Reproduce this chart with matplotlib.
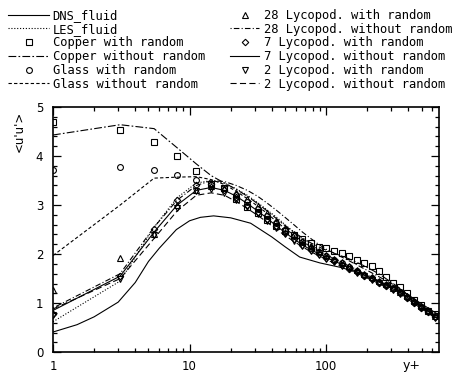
import matplotlib
matplotlib.use("Agg")
import matplotlib.pyplot as plt
from matplotlib.ticker import MultipleLocator, FixedLocator, LogLocator, NullFormatter

# wall-normal grid of the LES points (y+)
yplus = [1.0, 3.1, 5.5, 8.1, 11.2, 14.4, 18.0, 22.0, 26.5, 31.5, 37.0, 43.0, 50.0,
         58.0, 67.0, 77.0, 88.0, 100.0, 114.0, 130.0, 148.0, 168.0, 190.0, 215.0,
         243.0, 274.0, 309.0, 348.0, 392.0, 441.0, 496.0, 558.0, 630.0]

# DNS fluid curve (own grid)
dns_x = [1.0, 1.5, 2.0, 3.0, 4.0, 5.0, 6.0, 8.0, 10.0, 12.0, 15.0, 20.0, 28.0, 40.0,
         50.0, 64.0, 90.0, 127.0, 178.0, 250.0, 350.0, 490.0, 650.0]
dns_y = [0.41, 0.56, 0.72, 1.02, 1.42, 1.85, 2.12, 2.5, 2.68, 2.75, 2.78, 2.74, 2.63,
         2.35, 2.15, 1.94, 1.82, 1.73, 1.61, 1.43, 1.27, 1.0, 0.78]

les_fluid = [0.62, 1.45, 2.55, 3.15, 3.45, 3.5, 3.45, 3.33, 3.2, 3.05, 2.9, 2.76, 2.6,
             2.45, 2.31, 2.19, 2.09, 2.0, 1.92, 1.84, 1.76, 1.68, 1.6, 1.53, 1.45,
             1.38, 1.3, 1.22, 1.13, 1.03, 0.93, 0.84, 0.73]

copper_rand = [4.69, 4.53, 4.29, 4.0, 3.69, 3.43, 3.35, 3.12, 2.97, 2.83, 2.7, 2.58,
               2.47, 2.38, 2.3, 2.22, 2.15, 2.12, 2.07, 2.02, 1.96, 1.88, 1.82, 1.75,
               1.66, 1.53, 1.42, 1.32, 1.2, 1.07, 0.96, 0.84, 0.78]
copper_norand = [4.43, 4.64, 4.56, 4.17, 3.84, 3.6, 3.45, 3.32, 3.18, 3.03, 2.88, 2.73,
                 2.58, 2.45, 2.33, 2.23, 2.15, 2.08, 2.02, 1.96, 1.9, 1.83, 1.76, 1.68,
                 1.6, 1.5, 1.4, 1.3, 1.18, 1.06, 0.95, 0.84, 0.76]

glass_rand = [3.72, 3.78, 3.71, 3.62, 3.52, 3.42, 3.34, 3.2, 3.06, 2.92, 2.78, 2.63,
              2.49, 2.36, 2.24, 2.13, 2.04, 1.96, 1.88, 1.81, 1.73, 1.65, 1.58, 1.51,
              1.44, 1.37, 1.3, 1.22, 1.13, 1.03, 0.93, 0.84, 0.73]
glass_norand = [1.97, 3.0, 3.55, 3.57, 3.58, 3.52, 3.42, 3.28, 3.13, 2.98, 2.83, 2.67,
                2.52, 2.39, 2.26, 2.15, 2.06, 1.98, 1.9, 1.83, 1.75, 1.67, 1.6, 1.52,
                1.45, 1.38, 1.3, 1.22, 1.13, 1.03, 0.93, 0.84, 0.73]

lyc28_rand = [1.27, 1.92, 2.42, 3.0, 3.3, 3.38, 3.35, 3.25, 3.12, 2.98, 2.83, 2.68,
              2.53, 2.4, 2.27, 2.16, 2.07, 1.98, 1.9, 1.83, 1.75, 1.67, 1.6, 1.53,
              1.46, 1.38, 1.31, 1.23, 1.14, 1.04, 0.94, 0.85, 0.74]
lyc28_norand = [0.9, 1.6, 2.55, 3.1, 3.4, 3.5, 3.48, 3.4, 3.3, 3.18, 3.04, 2.9, 2.75,
                2.6, 2.45, 2.32, 2.2, 2.1, 2.02, 1.94, 1.86, 1.78, 1.7, 1.62, 1.54,
                1.46, 1.38, 1.29, 1.19, 1.08, 0.97, 0.86, 0.75]

lyc7_rand = [0.78, 1.56, 2.52, 3.1, 3.42, 3.44, 3.3, 3.16, 3.01, 2.86, 2.72, 2.57,
             2.43, 2.3, 2.18, 2.08, 2.0, 1.92, 1.85, 1.78, 1.7, 1.63, 1.56, 1.49,
             1.42, 1.35, 1.28, 1.2, 1.11, 1.01, 0.91, 0.82, 0.71]
lyc7_norand = [0.85, 1.55, 2.45, 3.0, 3.3, 3.36, 3.3, 3.18, 3.03, 2.88, 2.73, 2.58,
               2.44, 2.31, 2.19, 2.09, 2.01, 1.93, 1.86, 1.79, 1.71, 1.64, 1.57, 1.5,
               1.43, 1.36, 1.29, 1.21, 1.12, 1.02, 0.92, 0.83, 0.72]

lyc2_rand = [0.76, 1.5, 2.38, 2.95, 3.28, 3.33, 3.24, 3.1, 2.96, 2.81, 2.67, 2.53,
             2.4, 2.27, 2.16, 2.06, 1.98, 1.9, 1.83, 1.76, 1.69, 1.62, 1.55, 1.48,
             1.41, 1.34, 1.27, 1.19, 1.1, 1.0, 0.9, 0.81, 0.7]
lyc2_norand = [0.88, 1.5, 2.32, 2.88, 3.2, 3.25, 3.2, 3.07, 2.93, 2.79, 2.65, 2.51,
               2.38, 2.26, 2.15, 2.05, 1.97, 1.89, 1.82, 1.75, 1.68, 1.61, 1.54, 1.47,
               1.4, 1.33, 1.26, 1.18, 1.09, 0.99, 0.89, 0.8, 0.69]

plt.rcParams['font.family'] = 'DejaVu Sans'

fig = plt.figure(figsize=(4.65, 3.77), dpi=100)
ax = fig.add_axes([0.114, 0.066, 0.83, 0.65])

lw = 0.8
mk = dict(ls='none', mfc='none', mec='black', mew=0.8, ms=4.2, color='black')

h = []
h += ax.plot(dns_x, dns_y, '-', color='black', lw=lw, label='DNS_fluid')
h += ax.plot(yplus, les_fluid, color='black', lw=lw, dashes=(1, 1.6), label='LES_fluid')
h += ax.plot(yplus, copper_rand, marker='s', label='Copper with random', **mk)
h += ax.plot(yplus, copper_norand, color='black', lw=lw, dashes=(7, 2, 1.5, 2),
             label='Copper without random')
h += ax.plot(yplus, glass_rand, marker='o', label='Glass with random', **mk)
h += ax.plot(yplus, glass_norand, color='black', lw=lw, dashes=(3, 2),
             label='Glass without random')

h2 = []
h2 += ax.plot(yplus, lyc28_rand, marker='^', label='28 Lycopod. with random', **mk)
h2 += ax.plot(yplus, lyc28_norand, color='black', lw=lw, dashes=(1, 2, 5, 2),
              label='28 Lycopod. without random')
h2 += ax.plot(yplus, lyc7_rand, marker='D', label='7 Lycopod. with random',
              **{**mk, 'ms': 3.3})
h2 += ax.plot(yplus, lyc7_norand, '-', color='black', lw=lw, label='7 Lycopod. without random')
h2 += ax.plot(yplus, lyc2_rand, marker='v', label='2 Lycopod. with random', **mk)
h2 += ax.plot(yplus, lyc2_norand, color='black', lw=lw, dashes=(5.5, 3),
              label='2 Lycopod. without random')

ax.set_xscale('log')
ax.set_xlim(1, 670)
ax.set_ylim(0, 5)

ax.xaxis.set_major_locator(FixedLocator([1, 10, 100]))
ax.xaxis.set_minor_locator(LogLocator(base=10, subs=range(2, 10)))
ax.xaxis.set_minor_formatter(NullFormatter())
ax.set_xticklabels(['1', '10', '100'])
ax.yaxis.set_major_locator(MultipleLocator(1))
ax.yaxis.set_minor_locator(MultipleLocator(0.2))

ax.tick_params(which='both', direction='in', top=True, right=True, width=0.9)
ax.tick_params(which='major', length=6, labelsize=8.5)
ax.tick_params(axis='x', which='major', pad=6)
ax.tick_params(axis='y', which='major', pad=7)
ax.tick_params(which='minor', length=3)
for s in ax.spines.values():
    s.set_linewidth(1.2)

ax.set_ylabel("<u'u'>", fontsize=8.5)
ax.yaxis.set_label_coords(-0.07, 0.9)
fig.text(412 / 465, 1 - 366 / 377, 'y+', ha='center', va='center', fontsize=9)

lg = dict(frameon=False, loc='upper left', numpoints=1,
          labelspacing=0.06, borderpad=0, borderaxespad=0,
          prop={'family': 'DejaVu Sans Mono', 'size': 8.7})
leg1 = fig.legend(handles=h, bbox_to_anchor=(8 / 465, 1 - 9 / 377),
                  handlelength=3.4, handletextpad=0.3, **lg)
leg2 = fig.legend(handles=h2, bbox_to_anchor=(230 / 465, 1 - 9 / 377),
                  handlelength=2.4, handletextpad=0.45, **lg)

fig.savefig('out.png', dpi=100)
